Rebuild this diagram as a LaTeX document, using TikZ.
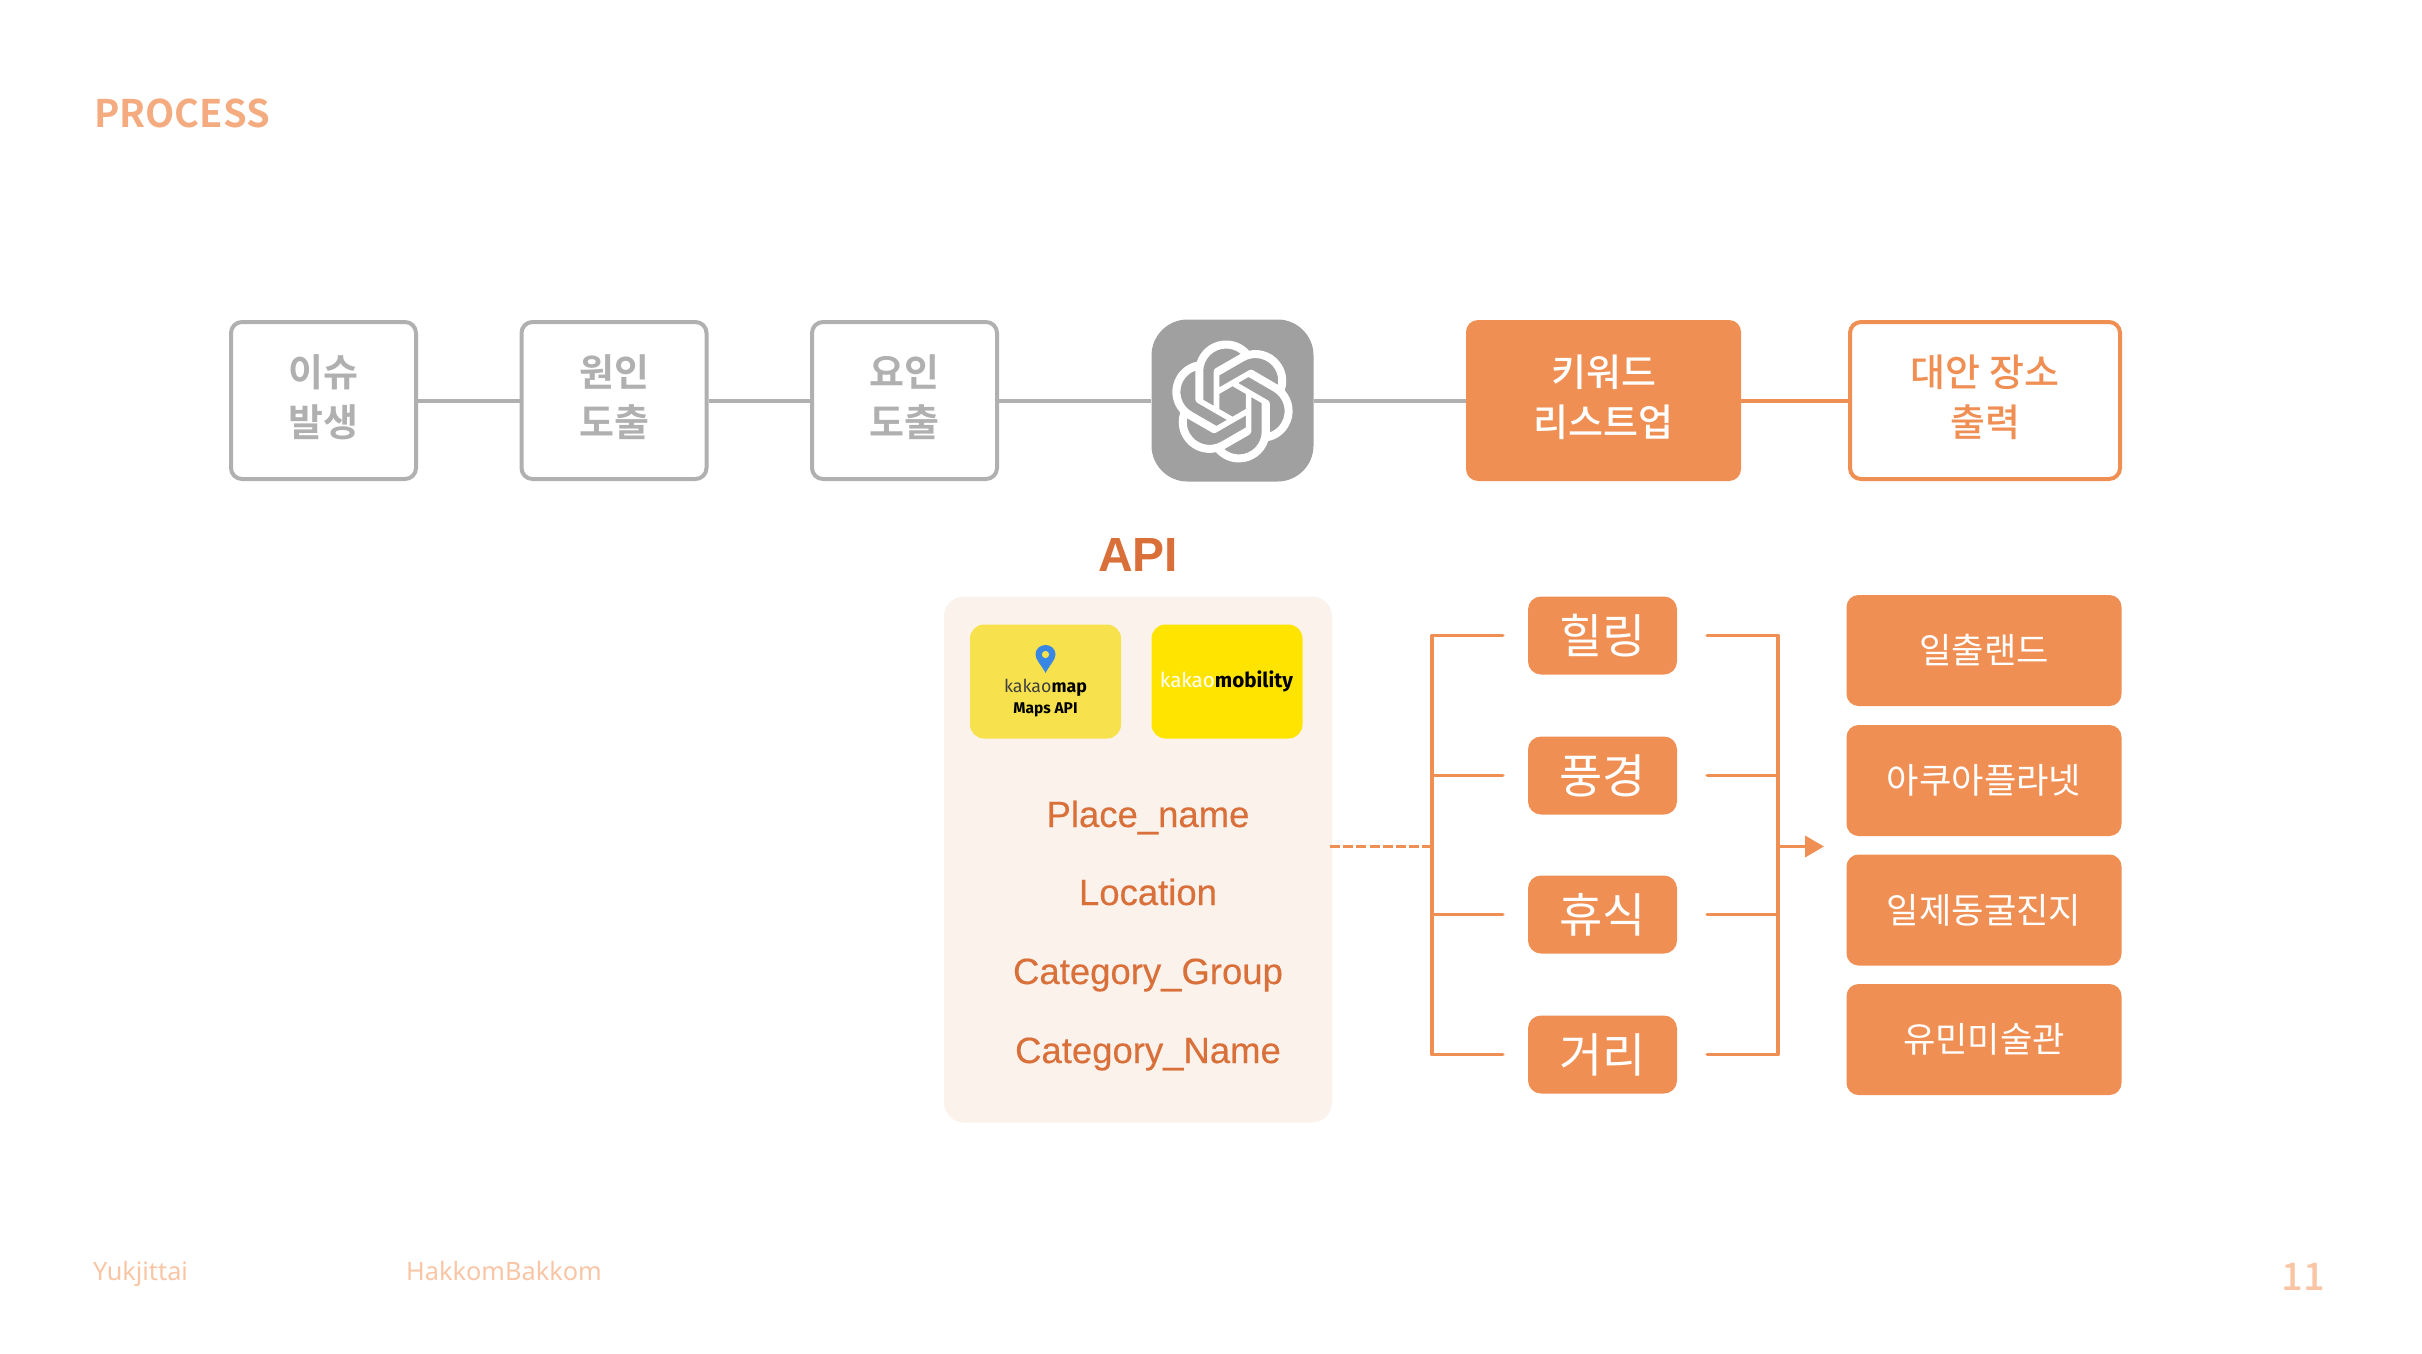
\documentclass[tikz,border=0pt]{standalone}
\usepackage{fontspec}
\usetikzlibrary{svg.path,arrows.meta,calc}
\setmainfont{Noto Sans CJK KR}
\newfontfamily\krmed[UprightFont=* Medium,BoldFont=* Bold]{Noto Sans CJK KR}
\newfontfamily\lat{Noto Sans}
\newfontfamily\logofont[BoldFont=* Bold]{Fira Sans}
\newfontfamily\fieldfont[FakeBold=0.35]{Liberation Sans}
\newfontfamily\apifont{Liberation Sans}
\newcommand{\lowertxt}[1]{\raisebox{-1.5pt}{#1}}
\definecolor{orng}{HTML}{F08F54}
\definecolor{gry}{HTML}{B0B0B0}
\definecolor{txtgry}{HTML}{B0B0B0}
\definecolor{icongry}{HTML}{A0A0A0}
\definecolor{dorng}{HTML}{D9703A}
\definecolor{paneltint}{HTML}{FBF2EC}
\definecolor{kmapy}{HTML}{F7E24D}
\definecolor{kmoby}{HTML}{FFE400}
\definecolor{pale}{HTML}{F9C5A5}
\tikzset{
  greybox/.style={draw=gry,line width=4pt,rounded corners=11pt,minimum width=185pt,minimum height=157pt,inner sep=0pt},
  outbox/.style={draw=orng,line width=4pt,rounded corners=11pt,minimum width=270pt,minimum height=157pt,inner sep=0pt},
  keybox/.style={fill=orng,rounded corners=12pt,minimum width=275pt,minimum height=161pt,inner sep=0pt},
  lbl/.style={inner sep=0pt,align=center,font=\krmed\fontsize{38}{50}\selectfont},
  smallbox/.style={fill=orng,rounded corners=13pt,minimum width=149pt,minimum height=78pt,inner sep=0pt,font=\fontsize{47}{50}\selectfont,text=white},
  placebox/.style={fill=orng,rounded corners=12pt,minimum width=275pt,minimum height=111pt,inner sep=0pt,font=\fontsize{35.2}{45}\selectfont,text=white},
  field/.style={inner sep=0pt,anchor=base,font=\fieldfont\fontsize{36.5}{45}\selectfont,text=dorng},
  greyline/.style={draw=gry,line width=4pt},
  orline/.style={draw=orng,line width=3.6pt},
  stub/.style={orline,line cap=round,line join=round},
  footer/.style={inner sep=0pt,anchor=base west,font=\lat\fontsize{25.3}{30}\selectfont,text=pale}
}
\begin{document}
\begin{tikzpicture}[x=1pt,y=-1pt]
\useasboundingbox (0,0) rectangle (2422,1354);
\fill[white] (0,0) rectangle (2422,1354);

% title and footer
\node[inner sep=0pt,anchor=west,text=orng!75!white,font=\krmed\fontsize{38}{45}\selectfont\bfseries] (title) at (94,113.5) {PROCESS};
\node[footer] (foot1) at (93,1280.5) {Yukjittai};
\node[footer] (foot2) at (406,1280.5) {HakkomBakkom};
\node[inner sep=0pt,text=pale,font=\krmed\fontsize{38}{40}\selectfont] (page) at (2303.5,1277) {11};

% top chain
\node[greybox] (issue) at (323.5,400.5) {};
\node[greybox] (cause) at (614,400.5) {};
\node[greybox] (factor) at (904.5,400.5) {};
\node[fill=icongry,rounded corners=36pt,minimum width=162pt,minimum height=162pt,inner sep=0pt] (gpt) at (1232.5,400.5) {};
\node[keybox] (keyword) at (1603.5,400.5) {};
\node[outbox] (output) at (1985,400.5) {};
\node[lbl,text=txtgry] (issuet) at (323.5,397.5) {\bfseries 이슈\\\bfseries 발생};
\node[lbl,text=txtgry] (causet) at (614,397.5) {\bfseries 원인\\\bfseries 도출};
\node[lbl,text=txtgry] (factort) at (904.5,397.5) {\bfseries 요인\\\bfseries 도출};
\node[lbl,text=white] (keywordt) at (1603.5,397.5) {키워드\\리스트업};
\node[lbl,text=orng] (outputt) at (1985,397.5) {대안 장소\\출력};
\draw[greyline] (issue) -- (cause);
\draw[greyline] (cause) -- (factor);
\draw[greyline] (factor) -- (gpt);
\draw[greyline] (gpt) -- (keyword);
\draw[orng,line width=4pt] (keyword) -- (output);

% logo
\begin{scope}[shift={(1171.5,340.5)},xscale=5.08,yscale=-5.08]
\fill[white,even odd rule] svg {M 22.2819 9.8211 a 5.9847 5.9847 0 0 0 -0.5157 -4.9108 6.0462 6.0462 0 0 0 -6.5098 -2.9 A 6.0651 6.0651 0 0 0 4.9807 4.1818 a 5.9847 5.9847 0 0 0 -3.9977 2.9 6.0462 6.0462 0 0 0 0.7427 7.0966 5.98 5.98 0 0 0 0.511 4.9107 6.051 6.051 0 0 0 6.5146 2.9001 A 5.9847 5.9847 0 0 0 13.2599 24 a 6.0557 6.0557 0 0 0 5.7718 -4.2058 5.9894 5.9894 0 0 0 3.9977 -2.9001 6.0557 6.0557 0 0 0 -0.7475 -7.0729 z M 13.2599 22.4292 a 4.4755 4.4755 0 0 1 -2.8764 -1.0408 l 0.1419 -0.0804 4.7783 -2.7582 a 0.7948 0.7948 0 0 0 0.3927 -0.6813 v -6.7369 l 2.02 1.1686 a 0.071 0.071 0 0 1 0.038 0.052 v 5.5826 a 4.504 4.504 0 0 1 -4.4945 4.4944 z M 3.5992 18.3038 a 4.4708 4.4708 0 0 1 -0.5346 -3.0137 l 0.142 0.0852 4.783 2.7582 a 0.7712 0.7712 0 0 0 0.7806 0 l 5.8428 -3.3685 v 2.3324 a 0.0804 0.0804 0 0 1 -0.0332 0.0615 L 9.74 19.9502 a 4.4992 4.4992 0 0 1 -6.1408 -1.6464 z M 2.3408 7.8956 a 4.485 4.485 0 0 1 2.3655 -1.9728 V 11.6 a 0.7664 0.7664 0 0 0 0.3879 0.6765 l 5.8144 3.3543 -2.0201 1.1685 a 0.0757 0.0757 0 0 1 -0.071 0 l -4.8303 -2.7865 A 4.504 4.504 0 0 1 2.3408 7.872 z M 18.9371 11.7514 L 13.1038 8.364 15.1192 7.2 a 0.0757 0.0757 0 0 1 0.071 0 l 4.8303 2.7913 a 4.4944 4.4944 0 0 1 -0.6765 8.1042 v -5.6772 a 0.79 0.79 0 0 0 -0.407 -0.667 z M 20.9478 8.7283 l -0.142 -0.0852 -4.7735 -2.7818 a 0.7759 0.7759 0 0 0 -0.7854 0 L 9.409 9.2297 V 6.8974 a 0.0662 0.0662 0 0 1 0.0284 -0.0615 l 4.8303 -2.7866 a 4.4992 4.4992 0 0 1 6.6802 4.66 z M 8.3065 12.863 l -2.02 -1.1638 a 0.0804 0.0804 0 0 1 -0.038 -0.0567 V 6.0742 a 4.4992 4.4992 0 0 1 7.3757 -3.4537 l -0.142 0.0805 L 8.704 5.459 a 0.7948 0.7948 0 0 0 -0.3927 0.6813 z M 9.4041 10.4976 l 2.602 -1.4998 2.6069 1.4998 v 2.9994 l -2.5974 1.4997 -2.6067 -1.4997 z};
\end{scope}

% API panel
\node[inner sep=0pt,text=dorng,font=\apifont\fontsize{48}{50}\selectfont\bfseries,anchor=base] (api) at (1138,571) {API};
\node[fill=paneltint,rounded corners=20pt,minimum width=388pt,minimum height=526pt,inner sep=0pt] (panel) at (1138,859.5) {};
\node[fill=kmapy,rounded corners=14pt,minimum width=151pt,minimum height=114pt,inner sep=0pt] (kmap) at (1045.5,681.5) {};
\node[fill=kmoby,rounded corners=14pt,minimum width=151pt,minimum height=114pt,inner sep=0pt] (kmob) at (1227,681.5) {};
\fill[blue!55!cyan!75!white!90!black] (1045.5,673) .. controls (1041.5,665) and (1035.5,660) .. (1035.5,654.5) .. controls (1035.5,649) and (1040,645) .. (1045.5,645) .. controls (1051,645) and (1055.5,649) .. (1055.5,654.5) .. controls (1055.5,660) and (1049.5,665) .. (1045.5,673) -- cycle;
\fill[kmapy] (1045.5,654.5) circle (3.6pt);
\node[inner sep=0pt,font=\logofont\fontsize{17.8}{25}\selectfont,anchor=base] (kmaptxt) at (1045.5,692) {\textcolor{black!75}{kakao}\textbf{map}};
\node[inner sep=0pt,font=\logofont\fontsize{15.5}{20}\selectfont\bfseries,anchor=base] (kmapi) at (1045.5,713) {Maps API};
\node[inner sep=0pt,font=\logofont\fontsize{20.6}{25}\selectfont,anchor=base] (kmobtxt) at (1226.5,687) {\textcolor{white}{kakao}\textbf{mobility}};
\node[field] (f1) at (1148,827) {Place\_name};
\node[field] (f2) at (1148,905) {Location};
\node[field] (f3) at (1148,984) {Category\_Group};
\node[field] (f4) at (1148,1063) {Category\_Name};

% keyword boxes
\node[smallbox] (k1) at (1602.5,635.5) {\lowertxt{힐링}};
\node[smallbox] (k2) at (1602.5,775.5) {\lowertxt{풍경}};
\node[smallbox] (k3) at (1602.5,914.5) {\lowertxt{휴식}};
\node[smallbox] (k4) at (1602.5,1054.5) {\lowertxt{거리}};
\coordinate (lb) at (1432,846.5);
\coordinate (rb) at (1778,846.5);
\coordinate (arrowtip) at (1824,846.5);
\draw[stub] ([xshift=-25pt]k1.west) -- (lb |- k1.west) -- (lb |- k4.west) -- ([xshift=-25pt]k4.west);
\draw[stub] ([xshift=-25pt]k2.west) -- (lb |- k2.west);
\draw[stub] ([xshift=-25pt]k3.west) -- (lb |- k3.west);
\draw[stub] ([xshift=30pt]k1.east) -- (rb |- k1.east) -- (rb |- k4.east) -- ([xshift=30pt]k4.east);
\draw[stub] ([xshift=30pt]k2.east) -- (rb |- k2.east);
\draw[stub] ([xshift=30pt]k3.east) -- (rb |- k3.east);
\draw[orline,dash pattern=on 10pt off 3.14pt] ([xshift=-2pt]panel.east |- lb) -- (lb);
\draw[orline,-{Triangle[length=19pt,width=21pt]},orng] (rb) -- (arrowtip);

% place boxes
\node[placebox] (p1) at (1984,650.5) {\raisebox{-1pt}{일출랜드}};
\node[placebox] (p2) at (1984,780.5) {\raisebox{-1pt}{아쿠아플라넷}};
\node[placebox] (p3) at (1984,910) {\raisebox{-1pt}{일제동굴진지}};
\node[placebox] (p4) at (1984,1039.5) {\raisebox{-1pt}{유민미술관}};
\end{tikzpicture}
\end{document}
